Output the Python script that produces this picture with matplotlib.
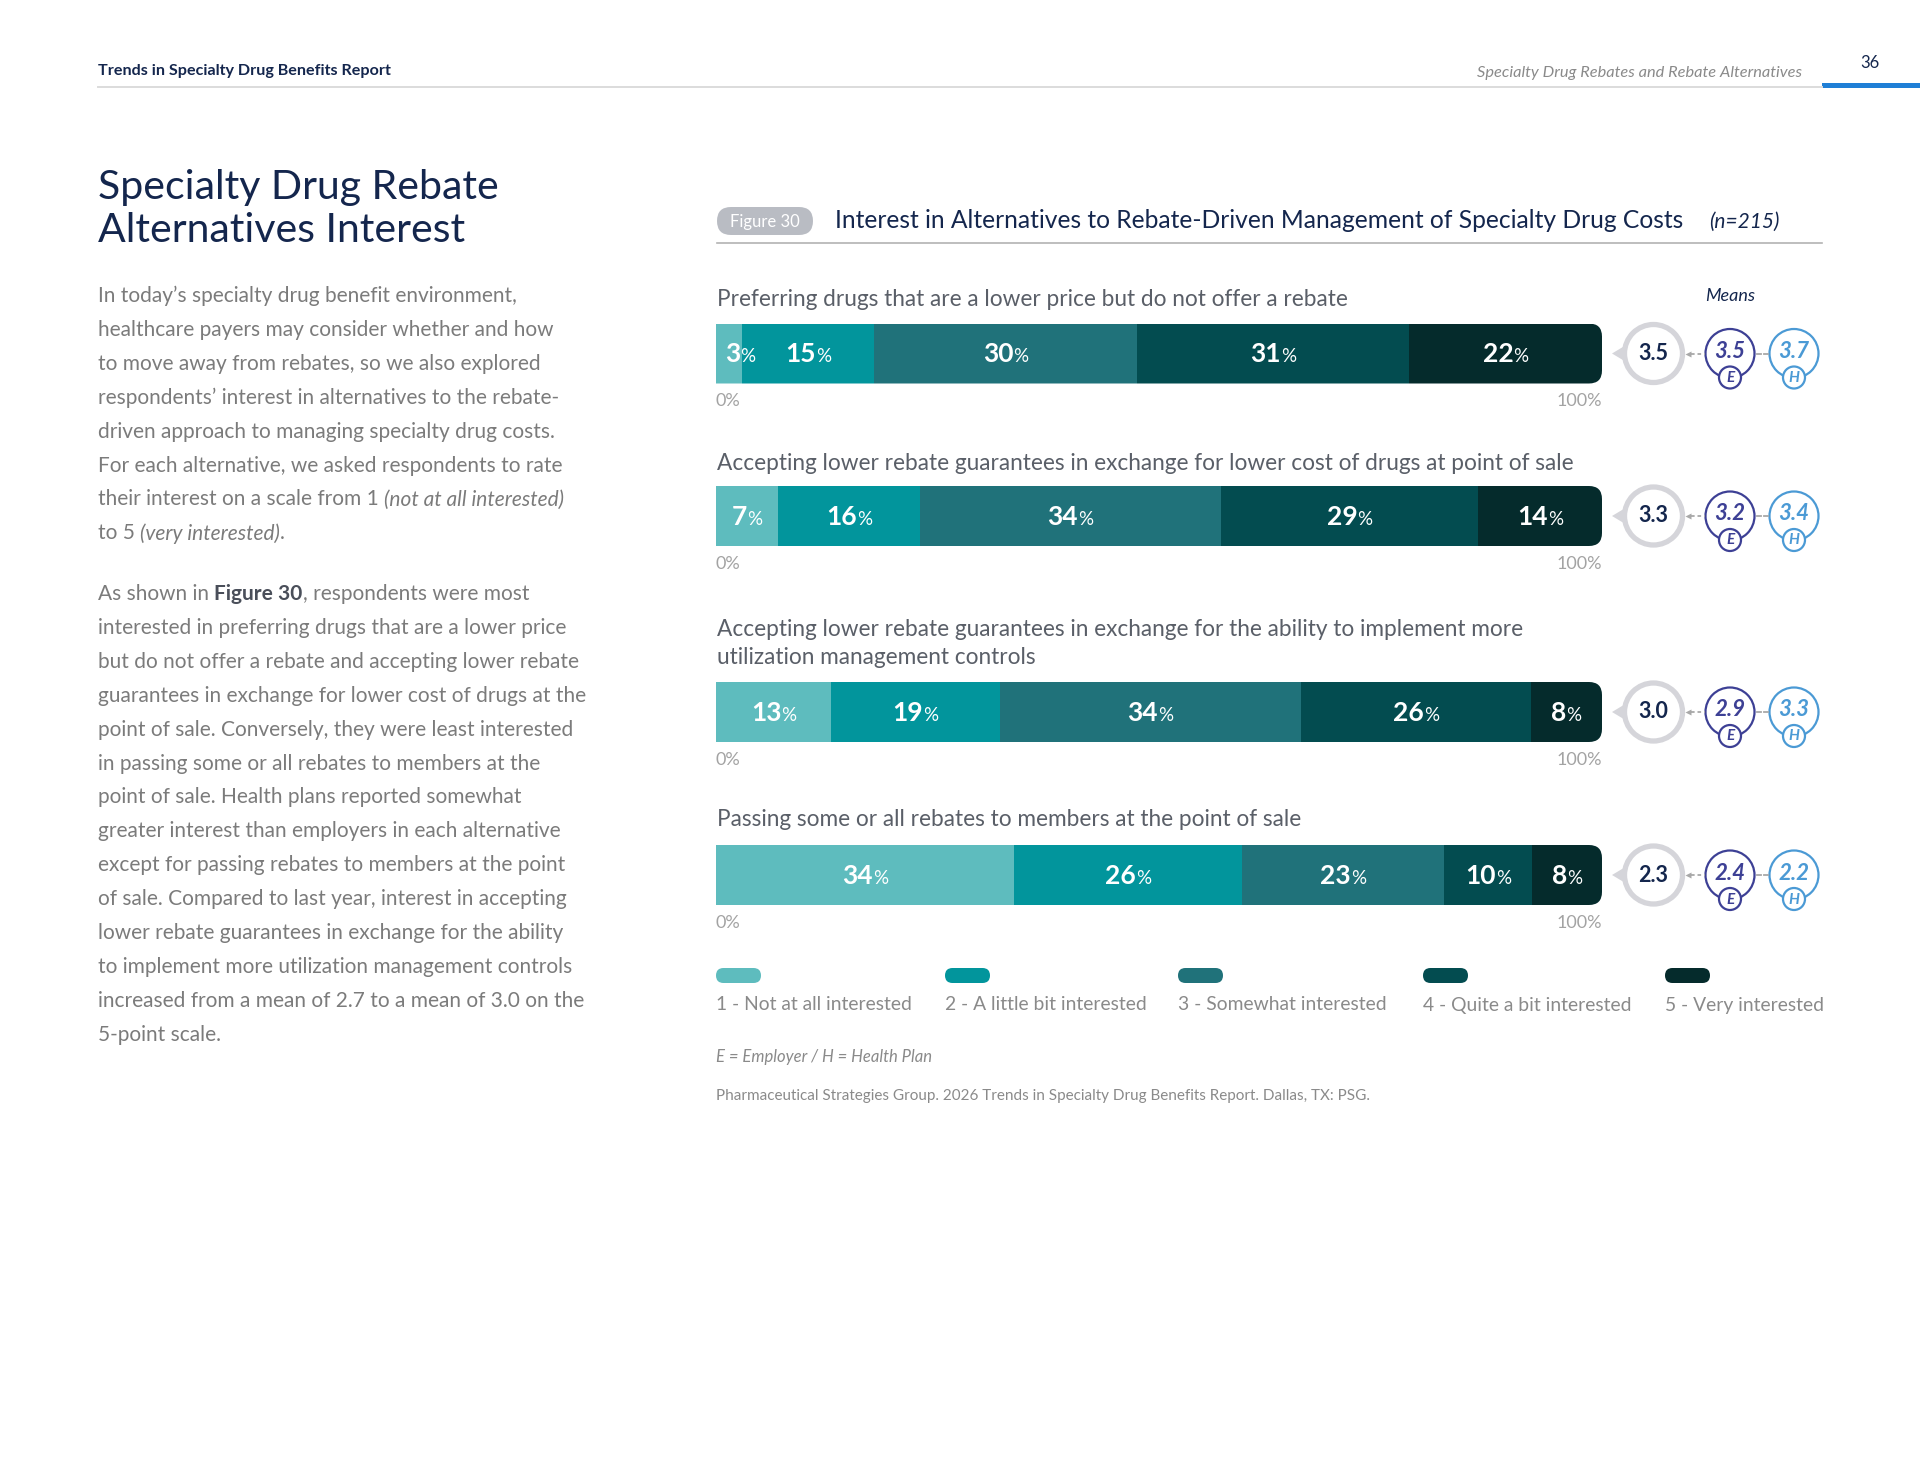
import numpy as np
import matplotlib
matplotlib.use("Agg")
from matplotlib import pyplot as plt
from matplotlib.patches import FancyBboxPatch, Circle, Polygon, Rectangle

plt.rcParams["font.family"] = ["Lato", "DejaVu Sans"]

# ---- data -------------------------------------------------------------
CATEGORIES = [
    "1 - Not at all interested",
    "2 - A little bit interested",
    "3 - Somewhat interested",
    "4 - Quite a bit interested",
    "5 - Very interested",
]
ITEMS = [
    "Preferring drugs that are a lower price but do not offer a rebate",
    "Accepting lower rebate guarantees in exchange for lower cost of drugs at point of sale",
    "Accepting lower rebate guarantees in exchange for the ability to implement more\nutilization management controls",
    "Passing some or all rebates to members at the point of sale",
]
NOT_AT_ALL = [3, 7, 13, 34]
LITTLE_BIT = [15, 16, 19, 26]
SOMEWHAT = [30, 34, 34, 23]
QUITE_A_BIT = [31, 29, 26, 10]
VERY = [22, 14, 8, 8]
MEAN_ALL = [3.5, 3.3, 3.0, 2.3]
MEAN_EMPLOYER = [3.5, 3.2, 2.9, 2.4]
MEAN_HEALTH_PLAN = [3.7, 3.4, 3.3, 2.2]

PARA1 = [
    [("In today\u2019s specialty drug benefit environment,", "n")],
    [("healthcare payers may consider whether and how", "n")],
    [("to move away from rebates, so we also explored", "n")],
    [("respondents\u2019 interest in alternatives to the rebate-", "n")],
    [("driven approach to managing specialty drug costs.", "n")],
    [("For each alternative, we asked respondents to rate", "n")],
    [("their interest on a scale from 1 ", "n"), ("(not at all interested)", "i")],
    [("to 5 ", "n"), ("(very interested)", "i"), (".", "n")],
]
PARA2 = [
    [("As shown in ", "n"), ("Figure 30", "b"), (", respondents were most", "n")],
    [("interested in preferring drugs that are a lower price", "n")],
    [("but do not offer a rebate and accepting lower rebate", "n")],
    [("guarantees in exchange for lower cost of drugs at the", "n")],
    [("point of sale. Conversely, they were least interested", "n")],
    [("in passing some or all rebates to members at the", "n")],
    [("point of sale. Health plans reported somewhat", "n")],
    [("greater interest than employers in each alternative", "n")],
    [("except for passing rebates to members at the point", "n")],
    [("of sale. Compared to last year, interest in accepting", "n")],
    [("lower rebate guarantees in exchange for the ability", "n")],
    [("to implement more utilization management controls", "n")],
    [("increased from a mean of 2.7 to a mean of 3.0 on the", "n")],
    [("5-point scale.", "n")],
]

# ---- style / layout ---------------------------------------------------
COLORS = ["#5ebcbe", "#02959c", "#20727a", "#034c50", "#052b2c"]
NAVY = "#14264d"
BODY = "#7b7b7b"
LIGHT = "#a3a3a3"
RING = "#d5d5da"
EMP = "#3d4095"
HP = "#4b9ad5"

W, H = 1920, 1483
BAR_X0, BAR_X1 = 716, 1602
ROW_Y = [353.5, 516, 712, 875]
LABEL_Y = [300, 463, 629, 820]
BAR_H = 60
LEG_X = [716, 945, 1178, 1423, 1665]

fig = plt.figure(figsize=(19.2, 14.83), dpi=100)
ax = fig.add_axes([0, 0, 1, 1])
ax.set_xlim(0, W)
ax.set_ylim(H, 0)
ax.axis("off")
ax.set_zorder(2)
renderer = fig.canvas.get_renderer()


def text_width(s, **kw):
    # width incl. trailing spaces (measure against a marker)
    t1 = ax.text(0, 0, s + "|", **kw)
    t2 = ax.text(0, 0, "|", **kw)
    w = t1.get_window_extent(renderer).width - t2.get_window_extent(renderer).width
    t1.remove()
    t2.remove()
    return w


def box_width(s, **kw):
    t = ax.text(0, 0, s, **kw)
    w = t.get_window_extent(renderer).width
    t.remove()
    return w


def put_runs(x, y, runs, styles, **kw):
    for s, key in runs:
        st = dict(kw)
        st.update(styles[key])
        ax.text(x, y, s, **st)
        x += text_width(s, **st)
    return x


# ---- page header ------------------------------------------------------
ax.text(98, 71, "Trends in Specialty Drug Benefits Report", fontsize=11.6,
        fontweight="bold", color=NAVY, va="center")
ax.text(1802, 73, "Specialty Drug Rebates and Rebate Alternatives", fontsize=11.8,
        style="italic", color="#8a8a8a", va="center", ha="right")
ax.text(1870, 63, "36", fontsize=12, color=NAVY, va="center", ha="center")
ax.plot([98, 1822], [86.5, 86.5], color="#dcdcdc", lw=1.4)
ax.add_patch(Rectangle((1822, 82.5), 98, 5, color="#1f7fd6", lw=0))

# ---- left column ------------------------------------------------------
ax.text(98, 188, "Specialty Drug Rebate", fontsize=29.5, color=NAVY, va="center")
ax.text(98, 231, "Alternatives Interest", fontsize=29.5, color=NAVY, va="center")

body_styles = {
    "n": dict(color=BODY),
    "i": dict(color=BODY, style="italic"),
    "b": dict(color="#4a4f5a", fontweight="bold"),
}
for k, line in enumerate(PARA1):
    put_runs(98, 296 + k * 33.9, line, body_styles, fontsize=15, va="center")
for k, line in enumerate(PARA2):
    put_runs(98, 594 + k * 33.9, line, body_styles, fontsize=15, va="center")

# ---- chart header -----------------------------------------------------
ax.add_patch(FancyBboxPatch((717, 207), 96, 28, boxstyle="round,pad=0,rounding_size=14",
                            fc="#b9bcc3", ec="none"))
ax.text(765, 221.5, "Figure 30", fontsize=12, color="white", ha="center", va="center")
ax.text(835, 221, "Interest in Alternatives to Rebate-Driven Management of Specialty Drug Costs",
        fontsize=17.7, color=NAVY, va="center")
ax.text(1709, 222, "(n=215)", fontsize=15, style="italic", color=NAVY, va="center")
ax.plot([717, 1822], [243, 243], color="#b3b3b3", lw=1.2)
ax.text(1730, 296, "Means", fontsize=13, style="italic", color=NAVY, va="center", ha="center")

# ---- bars -------------------------------------------------------------
bx = fig.add_axes([BAR_X0 / W, 1 - 905 / H, (BAR_X1 - BAR_X0) / W, (905 - 324) / H])
bx.set_xlim(0, 100)
bx.set_ylim(905, 324)
bx.axis("off")
bx.set_zorder(1)

table = np.array([NOT_AT_ALL, LITTLE_BIT, SOMEWHAT, QUITE_A_BIT, VERY], dtype=float).T
inv = ax.transData.inverted()
lab_styles = {
    "num": dict(fontsize=19, fontweight="bold", color="white"),
    "pct": dict(fontsize=13.5, color="white"),
}
PCT_KERN = 0.0  # gap between the digits and the % sign

for i, vals in enumerate(table):
    y = ROW_Y[i]
    shares = vals / vals.sum() * 100
    lefts = np.cumsum(shares) - shares
    bars = bx.barh(y, shares, left=lefts, height=BAR_H, color=COLORS, linewidth=0)
    clip = FancyBboxPatch((BAR_X0 - 40, y - BAR_H / 2), BAR_X1 - BAR_X0 + 40, BAR_H,
                          boxstyle="round,pad=0,rounding_size=13", transform=ax.transData)
    for b in bars:
        b.set_clip_path(clip)

    for k, part in enumerate(ITEMS[i].split("\n")):
        ax.text(BAR_X0 + 1, LABEL_Y[i] + k * 29, part, fontsize=16.3, color="#5a5f68",
                va="center")

    for v, l, s in zip(vals, lefts, shares):
        x_left = inv.transform(bx.transData.transform((l, y)))[0]
        x_mid = inv.transform(bx.transData.transform((l + s / 2, y)))[0]
        seg_w = inv.transform(bx.transData.transform((l + s, y)))[0] - x_left
        num = f"{v:.0f}"
        w_num = box_width(num, **lab_styles["num"]) + PCT_KERN
        total = w_num + box_width("%", **lab_styles["pct"])
        xx = x_mid - total / 2 if total < seg_w - 6 else x_left + 9
        ax.text(xx, y + 9, num, va="baseline", **lab_styles["num"])
        ax.text(xx + w_num, y + 9, "%", va="baseline", **lab_styles["pct"])

    ax.text(BAR_X0, y + BAR_H / 2 + 18, "0%", fontsize=13, color=LIGHT, va="center")
    ax.text(BAR_X1, y + BAR_H / 2 + 18, "100%", fontsize=13, color=LIGHT, va="center", ha="right")

    # means
    cx = 1653.5
    ax.add_patch(Polygon([(1612, y), (1627, y - 9), (1627, y + 9)], closed=True,
                         fc=RING, ec="none"))
    ax.add_patch(Circle((cx, y), 29, fc="white", ec=RING, lw=3.8))
    ax.text(cx, y, f"{MEAN_ALL[i]:.1f}", fontsize=15.5, fontweight="bold", color=NAVY,
            ha="center", va="center")
    ax.plot([1691, 1705], [y, y], ls=(0, (2, 1.6)), color="#a8a8a8", lw=1.3)
    ax.plot([1688], [y], marker="<", ms=4.5, color="#a8a8a8", mec="none")
    ax.plot([1757, 1761], [y, y], color="#a8a8a8", lw=1.3)
    ax.plot([1764, 1768], [y, y], color="#a8a8a8", lw=1.3)
    for mx, val, col, tag in [(1730, MEAN_EMPLOYER[i], EMP, "E"),
                              (1794, MEAN_HEALTH_PLAN[i], HP, "H")]:
        ax.add_patch(Circle((mx, y), 24.5, fc="white", ec=col, lw=1.6))
        ax.add_patch(Circle((mx, y + 24), 11, fc="white", ec=col, lw=1.6))
        ax.text(mx, y - 2, f"{val:.1f}", fontsize=16, fontweight="bold", style="italic",
                color=col, ha="center", va="center")
        ax.text(mx, y + 24.5, tag, fontsize=11, fontweight="bold", style="italic",
                color=col, ha="center", va="center")

# ---- legend -----------------------------------------------------------
for k, (lab, col) in enumerate(zip(CATEGORIES, COLORS)):
    ax.add_patch(FancyBboxPatch((LEG_X[k], 968), 45, 15,
                                boxstyle="round,pad=0,rounding_size=7.5", fc=col, ec="none"))
    ax.text(LEG_X[k], 1005, lab, fontsize=13.9, color="#8a8a8a", va="center")

ax.text(716, 1057, "E = Employer / H = Health Plan", fontsize=12, style="italic",
        color="#8a8a8a", va="center")
ax.text(716, 1096, "Pharmaceutical Strategies Group. 2026 Trends in Specialty Drug Benefits "
        "Report. Dallas, TX: PSG.", fontsize=11, color="#8a8a8a", va="center")

fig.savefig("out.png", dpi=100, facecolor="white")
